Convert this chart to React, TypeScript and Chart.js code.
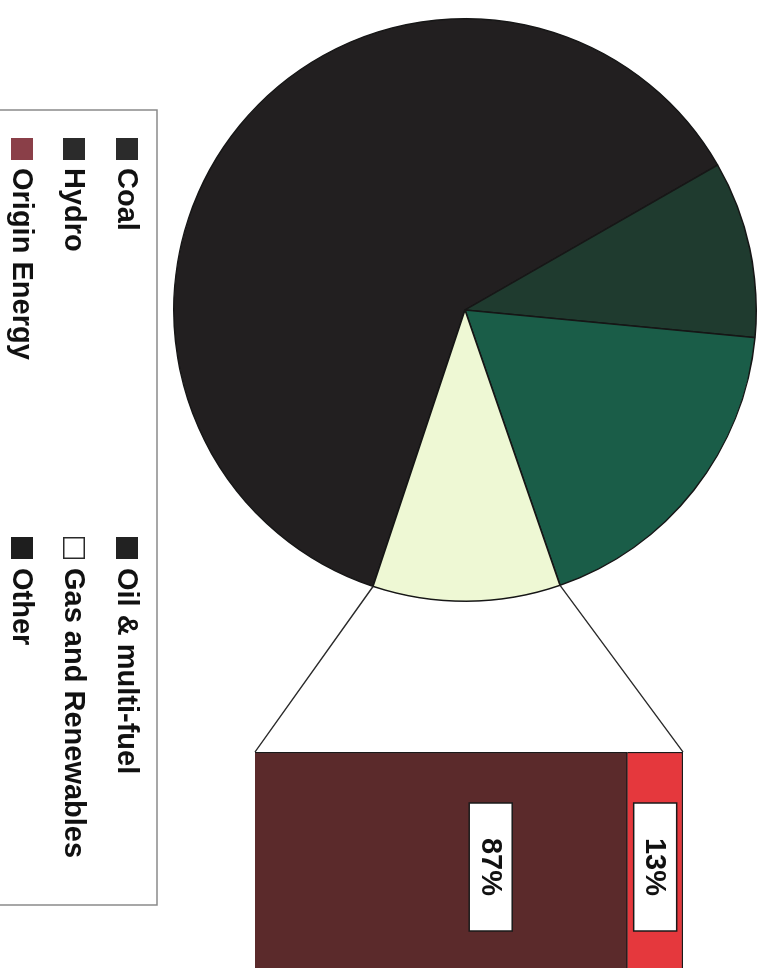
import React, { useEffect, useRef } from "react";
import { Chart, registerables } from "chart.js";

Chart.register(...registerables);

// ---- data ----
const pieLabels = ["Coal", "Oil & multi-fuel", "Hydro", "Gas and Renewables"];
const pieValues = [61.6, 9.8, 18.2, 10.4];
const pieColors = ["#221f20", "#1f3b2f", "#1a5d48", "#eef8d4"];
const splitIndex = 3; // slice broken out into the bar

const barLabels = ["Other", "Origin Energy"];
const barValues = [87, 13];
const barColors = ["#5b2a2b", "#e5383d"];

const legendLabels = ["Coal", "Oil & multi-fuel", "Hydro", "Gas and Renewables", "Origin Energy", "Other"];
const legendColors = ["#2b2b2b", "#222222", "#2b2b2b", "#ffffff", "#8a3f48", "#1e1e1e"];

// ---- layout (unrotated frame; whole frame is turned 90deg clockwise) ----
const W = 1100;
const H = 766;
const FONT = "bold 29px 'Liberation Sans', Arial, sans-serif";

export default function App() {
  const pieRef = useRef<HTMLCanvasElement>(null);
  const barRef = useRef<HTMLCanvasElement>(null);

  useEffect(() => {
    const legendPlugin = {
      id: "boxLegend",
      afterDraw(chart: any) {
        const ctx = chart.ctx;
        ctx.save();
        // legend frame
        const bx0 = 110, bx1 = 905, by0 = 609;
        ctx.strokeStyle = "#8a8a8a";
        ctx.lineWidth = 1.5;
        ctx.beginPath();
        ctx.moveTo(bx0, H + 5);
        ctx.lineTo(bx0, by0);
        ctx.lineTo(bx1, by0);
        ctx.lineTo(bx1, H + 5);
        ctx.stroke();
        const rows = [639, 692, 744];
        const swX = [138, 537];
        const txX = [168, 568];
        ctx.font = FONT;
        ctx.textBaseline = "middle";
        ctx.textAlign = "left";
        legendLabels.forEach((lab, i) => {
          const col = i % 2;
          const row = Math.floor(i / 2);
          const cy = rows[row];
          ctx.fillStyle = legendColors[i];
          ctx.fillRect(swX[col], cy - 11, 22, 22);
          if (legendColors[i] === "#ffffff") {
            ctx.strokeStyle = "#2a2a2a";
            ctx.lineWidth = 1.5;
            ctx.strokeRect(swX[col] + 0.75, cy - 10.25, 20.5, 20.5);
          }
          ctx.fillStyle = "#111111";
          ctx.fillText(lab, txX[col], cy + 1);
        });
        ctx.restore();
      },
    };

    const pie = new Chart(pieRef.current as HTMLCanvasElement, {
      type: "pie",
      data: {
        labels: pieLabels,
        datasets: [
          {
            data: pieValues,
            backgroundColor: pieColors,
            borderColor: "#161616",
            borderWidth: 1.5,
          },
        ],
      },
      options: {
        responsive: false,
        animation: false,
        rotation: 108.4,
        layout: { padding: { left: 18, top: 9, right: W - 602, bottom: H - 593 } },
        plugins: { legend: { display: false }, tooltip: { enabled: false } },
      },
      plugins: [legendPlugin],
    } as any);

    const connectorPlugin = {
      id: "connectorsAndLabels",
      afterDatasetsDraw(chart: any) {
        const ctx = chart.ctx;
        const arc: any = pie.getDatasetMeta(0).data[splitIndex];
        const lowEl: any = chart.getDatasetMeta(0).data[0];
        const topEl: any = chart.getDatasetMeta(barLabels.length - 1).data[0];
        if (!arc || !lowEl || !topEl) return;
        const p = arc.getProps(["x", "y", "startAngle", "endAngle", "outerRadius"], true);
        const left = lowEl.x - lowEl.width / 2;
        const barTop = topEl.y;
        const barBase = lowEl.base;
        ctx.save();
        ctx.strokeStyle = "#2a2a2a";
        ctx.lineWidth = 1.5;
        ctx.beginPath();
        ctx.moveTo(p.x + p.outerRadius * Math.cos(p.startAngle), p.y + p.outerRadius * Math.sin(p.startAngle));
        ctx.lineTo(left, barTop);
        ctx.moveTo(p.x + p.outerRadius * Math.cos(p.endAngle), p.y + p.outerRadius * Math.sin(p.endAngle));
        ctx.lineTo(left, barBase);
        ctx.stroke();

        // data labels
        const total = barValues.reduce((a, b) => a + b, 0);
        ctx.font = FONT;
        ctx.textAlign = "center";
        ctx.textBaseline = "middle";
        barValues.forEach((v, i) => {
          const el: any = chart.getDatasetMeta(i).data[0];
          const t = Math.min(el.y, el.base);
          const b = Math.max(el.y, el.base);
          const frac = i === 0 ? 0.367 : 0.5;
          const cx = el.x;
          const cy = t + (b - t) * frac;
          const bw = 128, bh = 43;
          ctx.fillStyle = "#ffffff";
          ctx.fillRect(cx - bw / 2, cy - bh / 2, bw, bh);
          ctx.strokeStyle = "#1a1a1a";
          ctx.lineWidth = 1.5;
          ctx.strokeRect(cx - bw / 2, cy - bh / 2, bw, bh);
          ctx.fillStyle = "#111111";
          ctx.fillText(Math.round((v / total) * 100) + "%", cx, cy + 1);
        });
        ctx.restore();
      },
    };

    const bar = new Chart(barRef.current as HTMLCanvasElement, {
      type: "bar",
      data: {
        labels: ["Gas and Renewables"],
        datasets: barLabels.map((lab, i) => ({
          label: lab,
          data: [barValues[i]],
          backgroundColor: barColors[i],
          borderColor: "#1a1a1a",
          borderWidth: 1.5,
          barPercentage: 1,
          categoryPercentage: 1,
        })),
      },
      options: {
        responsive: false,
        animation: false,
        layout: { padding: { left: 752, right: W - 982, top: 83, bottom: H - 511 } },
        scales: {
          x: { stacked: true, display: false },
          y: { stacked: true, display: false, min: 0, max: 100 },
        },
        plugins: { legend: { display: false }, tooltip: { enabled: false } },
      },
      plugins: [connectorPlugin],
    } as any);

    return () => {
      bar.destroy();
      pie.destroy();
    };
  }, []);

  return (
    <div
      style={{
        position: "fixed",
        left: 0,
        top: 0,
        width: 766,
        height: 968,
        overflow: "hidden",
        background: "#ffffff",
      }}
    >
      <div
        style={{
          position: "absolute",
          left: 0,
          top: 0,
          width: W,
          height: H,
          transform: `translate(${H}px, 0px) rotate(90deg)`,
          transformOrigin: "0 0",
        }}
      >
        <canvas ref={pieRef} width={W} height={H} style={{ position: "absolute", left: 0, top: 0 }} />
        <canvas ref={barRef} width={W} height={H} style={{ position: "absolute", left: 0, top: 0 }} />
      </div>
    </div>
  );
}
